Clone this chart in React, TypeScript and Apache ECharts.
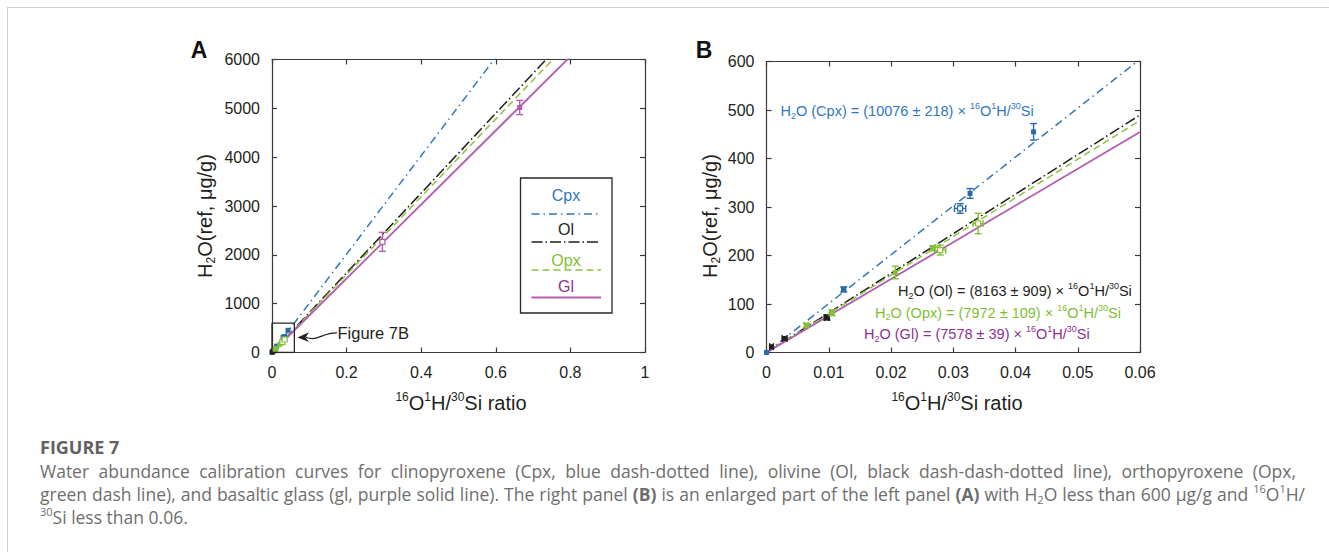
import React, { useEffect, useRef } from "react";
import * as echarts from "echarts";

// ---------- data ----------
const mineralNames = ["Cpx", "Ol", "Opx", "Gl"];
const fitSlopes = [10076, 8163, 7972, 7578];
const fitSlopeErrors = [218, 909, 109, 39];

const cpxRatio = [0, 0.0124, 0.0311, 0.0327, 0.0429];
const cpxH2O = [0, 130, 297, 328, 455];
const cpxRatioErr = [0.0002, 0.0003, 0.0009, 0.0002, 0.0002];
const cpxH2OErr = [2, 5, 10, 10, 17];
const cpxFilled = [1, 1, 0, 1, 1];

const olRatio = [0.0008, 0.0029, 0.0097];
const olH2O = [12, 29, 72];
const olRatioErr = [0.0003, 0.0004, 0.0004];
const olH2OErr = [3, 3, 5];
const olFilled = [1, 1, 1];

const opxRatio = [0.0064, 0.0105, 0.0207, 0.0267, 0.0279, 0.034];
const opxH2O = [56, 82, 165, 215, 211, 266];
const opxRatioErr = [0.0003, 0.0003, 0.0002, 0.0003, 0.0009, 0.0008];
const opxH2OErr = [4, 6, 13, 5, 10, 21];
const opxFilled = [1, 1, 1, 1, 0, 0];

const glRatio = [0.296, 0.664];
const glH2O = [2266, 5017];
const glRatioErr = [0.004, 0.003];
const glH2OErr = [195, 145];
const glFilled = [0, 1];

// panel ranges
const panelAX = [0, 1, 0.2];
const panelAY = [0, 6000, 1000];
const panelBX = [0, 0.06, 0.01];
const panelBY = [0, 600, 100];
// zoom box drawn in panel A (extent of panel B)
const zoomBoxX = [0, 0.06, 0.06, 0, 0];
const zoomBoxY = [0, 0, 600, 600, 0];

// caption text (style, text)
const captionTitle = "FIGURE 7";
const captionLines: [string, string][][] = [
  [["n", "Water abundance calibration curves for clinopyroxene (Cpx, blue dash-dotted line), olivine (Ol, black dash-dash-dotted line), orthopyroxene (Opx,"]],
  [
    ["n", "green dash line), and basaltic glass (gl, purple solid line). The right panel "],
    ["b", "(B)"],
    ["n", " is an enlarged part of the left panel "],
    ["b", "(A)"],
    ["n", " with H"],
    ["sub", "2"],
    ["n", "O less than 600 μg/g and "],
    ["sup", "16"],
    ["n", "O"],
    ["sup", "1"],
    ["n", "H/"],
  ],
  [["sup", "30"], ["n", "Si less than 0.06."]],
];

// ---------- styles ----------
const FONT = "'Liberation Sans', Arial, sans-serif";
const CAP_FONT = "'Open Sans', sans-serif";
const AXIS = "#3a3a3a";
const TXT = "#231f20";
const lineColors = ["#2f78bd", "#1e1e1e", "#8cc33f", "#b35db0"];
const textColors = ["#2f78bd", "#231f20", "#7fbf2f", "#8e2f91"];
const markerColors = ["#2a6aae", "#231f20", "#86bf35", "#b35db0"];
const dashes: any[] = [[8, 4, 1.5, 4], [11, 3, 1.5, 3], [7, 4], "solid"];
const lineWidths = [1.5, 1.5, 1.5, 1.8];

function axisBase(gridIndex: number, r: number[], pos: string, labels: boolean) {
  return {
    type: "value",
    gridIndex,
    min: r[0],
    max: r[1],
    interval: r[2],
    position: pos,
    axisLine: { show: true, onZero: false, lineStyle: { color: AXIS, width: 1.2 } },
    axisTick: { show: true, inside: true, length: 5, lineStyle: { color: AXIS, width: 1.2 } },
    splitLine: { show: false },
    axisLabel: {
      show: labels, color: TXT, fontSize: 16, fontFamily: FONT, margin: 12,
      formatter: (v: number) => String(parseFloat(v.toFixed(4))),
    },
  };
}

function errorSeries(
  name: string, xs: number[], ys: number[], xe: number[], ye: number[], filled: number[],
  color: string, axisIdx: number
) {
  return {
    type: "custom",
    name,
    xAxisIndex: axisIdx,
    yAxisIndex: axisIdx,
    z: 5,
    encode: { x: 0, y: 1 },
    data: xs.map((x, i) => [x, ys[i], xe[i], ye[i], filled[i]]),
    renderItem: (_p: any, api: any) => {
      const x = api.value(0), y = api.value(1), dx = api.value(2), dy = api.value(3), f = api.value(4);
      const c = api.coord([x, y]);
      const t = api.coord([x, y + dy]);
      const b = api.coord([x, y - dy]);
      const l = api.coord([x - dx, y]);
      const r = api.coord([x + dx, y]);
      const cap = 3.5;
      const st = { stroke: color, lineWidth: 1.4 };
      const ch: any[] = [];
      if (Math.abs(t[1] - b[1]) > 3) {
        ch.push({ type: "line", shape: { x1: c[0], y1: t[1], x2: c[0], y2: b[1] }, style: st });
        ch.push({ type: "line", shape: { x1: c[0] - cap, y1: t[1], x2: c[0] + cap, y2: t[1] }, style: st });
        ch.push({ type: "line", shape: { x1: c[0] - cap, y1: b[1], x2: c[0] + cap, y2: b[1] }, style: st });
      }
      if (Math.abs(r[0] - l[0]) > 3) {
        ch.push({ type: "line", shape: { x1: l[0], y1: c[1], x2: r[0], y2: c[1] }, style: st });
        ch.push({ type: "line", shape: { x1: l[0], y1: c[1] - cap, x2: l[0], y2: c[1] + cap }, style: st });
        ch.push({ type: "line", shape: { x1: r[0], y1: c[1] - cap, x2: r[0], y2: c[1] + cap }, style: st });
      }
      ch.push({
        type: "rect",
        shape: { x: c[0] - 2.5, y: c[1] - 2.5, width: 5, height: 5 },
        style: f ? { fill: color } : { fill: "#ffffff", stroke: color, lineWidth: 1.2 },
      });
      return { type: "group", children: ch };
    },
  };
}

function richStyles(color: string, size: number, family: string): any {
  const sub = Math.round(size * 0.62);
  return {
    n: { fill: color, fontSize: size, fontFamily: family, lineHeight: size + 4 },
    b: { fill: color, fontSize: size, fontFamily: family, fontWeight: "bold", lineHeight: size + 4 },
    sup: { fill: color, fontSize: sub, fontFamily: family, lineHeight: sub + 2, verticalAlign: "top" },
    sub: { fill: color, fontSize: sub, fontFamily: family, lineHeight: sub + 1, verticalAlign: "bottom" },
  };
}

let measureCtx: CanvasRenderingContext2D | null = null;
function measure(st: any, t: string) {
  if (!measureCtx) measureCtx = document.createElement("canvas").getContext("2d");
  if (!measureCtx) return t.length * st.fontSize * 0.5;
  measureCtx.font = `${st.fontWeight || "normal"} ${st.fontSize}px ${st.fontFamily}`;
  return measureCtx.measureText(t).width;
}

// build a justified rich-text line
function justifiedLine(segs: [string, string][], base: any, target: number | null) {
  const tokens: [string, string][] = [];
  segs.forEach(([st, t]) => {
    t.split(" ").forEach((part, j) => {
      if (j > 0) tokens.push(["sp", " "]);
      if (part) tokens.push([st, part]);
    });
  });
  let spW = measure(base.n, " ");
  const nSp = tokens.filter((k) => k[0] === "sp").length;
  if (target != null && nSp > 0) {
    const nat = tokens.filter((k) => k[0] !== "sp").reduce((s, k) => s + measure(base[k[0]], k[1]), 0);
    spW = Math.max(spW * 0.6, (target - nat) / nSp);
  }
  const rich = { ...base, sp: { ...base.n, width: spW } };
  const text = tokens.map(([s, t]) => `{${s}|${t}}`).join("");
  return { text, rich };
}

const ratioText = "{sup|16}{n|O}{sup|1}{n|H/}{sup|30}{n|Si}";
function eqText(i: number) {
  return `{n|H}{sub|2}{n|O (${mineralNames[i]}) = (${fitSlopes[i]} ± ${fitSlopeErrors[i]}) × }` + ratioText;
}

function buildOption() {
  const series: any[] = [];
  // fit lines
  [0, 2].forEach((ai) => {
    const xEnd = ai === 0 ? panelAX[1] : panelBX[1];
    mineralNames.forEach((nm, i) => {
      series.push({
        type: "line",
        name: nm + " fit",
        xAxisIndex: ai,
        yAxisIndex: ai,
        data: [[0, 0], [xEnd, fitSlopes[i] * xEnd]],
        symbol: "none",
        clip: true,
        z: 3,
        lineStyle: { color: lineColors[i], width: lineWidths[i], type: dashes[i] },
      });
    });
  });
  [0, 2].forEach((ai) => {
    series.push(errorSeries("Cpx", cpxRatio, cpxH2O, cpxRatioErr, cpxH2OErr, cpxFilled, markerColors[0], ai));
    series.push(errorSeries("Ol", olRatio, olH2O, olRatioErr, olH2OErr, olFilled, markerColors[1], ai));
    series.push(errorSeries("Opx", opxRatio, opxH2O, opxRatioErr, opxH2OErr, opxFilled, markerColors[2], ai));
  });
  series.push(errorSeries("Gl", glRatio, glH2O, glRatioErr, glH2OErr, glFilled, markerColors[3], 0));
  series.push({
    type: "line",
    name: "zoom box",
    xAxisIndex: 0,
    yAxisIndex: 0,
    data: zoomBoxX.map((x, i) => [x, zoomBoxY[i]]),
    symbol: "none",
    z: 6,
    lineStyle: { color: "#2b2523", width: 1.3 },
  });

  const g: any[] = [];
  // page frame
  g.push({ type: "line", shape: { x1: 7, y1: 7.5, x2: 1329, y2: 7.5 }, style: { stroke: "#d2d2d2", lineWidth: 1 } });
  g.push({ type: "line", shape: { x1: 7.5, y1: 7, x2: 7.5, y2: 552 }, style: { stroke: "#d2d2d2", lineWidth: 1 } });
  // panel letters
  g.push({ type: "text", x: 199, y: 50, style: { text: "A", font: `bold 23px ${FONT}`, fill: "#111", align: "center", verticalAlign: "middle" } });
  g.push({ type: "text", x: 704, y: 49.5, style: { text: "B", font: `bold 23px ${FONT}`, fill: "#111", align: "center", verticalAlign: "middle" } });
  // axis titles
  const titleRich = richStyles(TXT, 20, FONT);
  const xTitle = ratioText + "{n| ratio}";
  g.push({ type: "text", x: 461, y: 403, style: { text: xTitle, rich: titleRich, align: "center", verticalAlign: "middle" } });
  g.push({ type: "text", x: 957, y: 403, style: { text: xTitle, rich: titleRich, align: "center", verticalAlign: "middle" } });
  const yTitle = "{n|H}{sub|2}{n|O(ref, μg/g)}";
  g.push({ type: "text", x: 205, y: 216, rotation: Math.PI / 2, style: { text: yTitle, rich: titleRich, align: "center", verticalAlign: "middle" } });
  g.push({ type: "text", x: 710, y: 216, rotation: Math.PI / 2, style: { text: yTitle, rich: titleRich, align: "center", verticalAlign: "middle" } });
  // legend in panel A
  g.push({ type: "rect", shape: { x: 520.5, y: 178, width: 91.5, height: 135 }, style: { fill: "#fff", stroke: "#2b2523", lineWidth: 1.3 }, z: 10 });
  const legTextY = [195.5, 229, 260, 286];
  const legLineY = [214, 242, 270, 297.5];
  mineralNames.forEach((nm, i) => {
    g.push({ type: "text", x: 566, y: legTextY[i], z: 11, style: { text: nm, font: `16px ${FONT}`, fill: textColors[i], align: "center", verticalAlign: "middle" } });
    g.push({
      type: "line", z: 11,
      shape: { x1: 531.5, y1: legLineY[i], x2: 601, y2: legLineY[i] },
      style: { stroke: lineColors[i], lineWidth: lineWidths[i], lineDash: dashes[i] === "solid" ? null : dashes[i] },
    });
  });
  // Figure 7B annotation
  g.push({ type: "text", x: 337.5, y: 332.5, style: { text: "Figure 7B", font: `16.5px ${FONT}`, fill: TXT, align: "left", verticalAlign: "middle" } });
  g.push({ type: "bezierCurve", shape: { x1: 306, y1: 337.3, cpx1: 318, cpy1: 342, cpx2: 322, cpy2: 332.5, x2: 337, y2: 332.8 }, style: { stroke: TXT, lineWidth: 1.2, fill: null } });
  g.push({ type: "polygon", shape: { points: [[297.5, 337.5], [309, 332.3], [305.5, 337.4], [309, 342]] }, style: { fill: TXT } });
  // equations in panel B
  const eqPos = [[780.5, 111], [898, 291], [875, 312.7], [864, 334]];
  [0, 1, 2, 3].forEach((i) => {
    g.push({ type: "text", x: eqPos[i][0], y: eqPos[i][1], style: { text: eqText(i), rich: richStyles(textColors[i], 14.5, FONT), align: "left", verticalAlign: "middle" } });
  });
  // caption
  const capColor = "#6e6e6e";
  g.push({ type: "text", x: 40, y: 447, style: { text: captionTitle, font: `bold 18px ${CAP_FONT}`, fill: "#626262", align: "left", verticalAlign: "middle" } });
  const capBase = richStyles(capColor, 17.5, CAP_FONT);
  const capEnds = [1296 - 40, 1305 - 40, null];
  const capY = [471, 494, 516.5];
  captionLines.forEach((segs, i) => {
    const { text, rich } = justifiedLine(segs, capBase, capEnds[i]);
    g.push({ type: "text", x: 40, y: capY[i], style: { text, rich, align: "left", verticalAlign: "middle" } });
  });

  return {
    animation: false,
    backgroundColor: "#ffffff",
    grid: [
      { left: 272, top: 59.5, width: 373, height: 293 },
      { left: 766.5, top: 61.5, width: 373.5, height: 291 },
    ],
    xAxis: [
      axisBase(0, panelAX, "bottom", true),
      axisBase(0, panelAX, "top", false),
      axisBase(1, panelBX, "bottom", true),
      axisBase(1, panelBX, "top", false),
    ],
    yAxis: [
      axisBase(0, panelAY, "left", true),
      axisBase(0, panelAY, "right", false),
      axisBase(1, panelBY, "left", true),
      axisBase(1, panelBY, "right", false),
    ],
    series,
    graphic: g,
  };
}

export default function App() {
  const ref = useRef<HTMLDivElement>(null);
  useEffect(() => {
    if (!ref.current) return;
    const chart = echarts.init(ref.current, null, { renderer: "svg" });
    chart.setOption(buildOption() as any);
    return () => chart.dispose();
  }, []);
  return (
    <div
      ref={ref}
      style={{ position: "absolute", left: 0, top: 0, width: 1329, height: 552, background: "#fff" }}
    />
  );
}
